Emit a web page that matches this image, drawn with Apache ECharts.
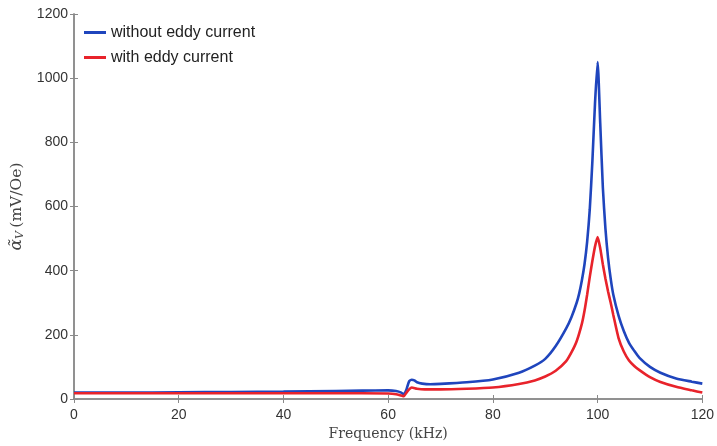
<!DOCTYPE html>
<html><head><meta charset="utf-8">
<script src="https://cdn.jsdelivr.net/npm/echarts@6/dist/echarts.min.js"></script>
<style>html,body{margin:0;padding:0;background:#fff}#c{width:717px;height:446px}</style>
</head><body><div id="c"></div>
<script>
const xTicks = [0, 20, 40, 60, 80, 100, 120];
const yTicks = [0, 200, 400, 600, 800, 1000, 1200];
const seriesNames = ['without eddy current', 'with eddy current'];

const freqBlue = [0, 10, 20, 30, 40, 50, 55, 60, 61.5, 62.5, 63, 63.5, 64, 64.5, 65, 65.5, 66.5, 68, 70, 75, 80, 85, 88, 90, 92, 94, 95, 96, 96.5, 97, 97.5, 98, 98.5, 99, 99.5, 100, 100.5, 101, 101.5, 102, 102.5, 103, 104, 105, 106, 107, 108, 110, 112, 115, 118, 120];
const valBlue  = [20, 20, 21, 22, 23, 25, 26, 27, 25, 20, 14, 30, 55, 60, 58, 52, 48, 46, 47, 52, 61, 82, 104, 125, 165, 220, 255, 300, 330, 370, 420, 490, 590, 740, 920, 1050, 860, 660, 530, 440, 375, 325, 260, 212, 175, 150, 128, 100, 82, 64, 54, 48];

const freqRed  = [0, 10, 20, 30, 40, 50, 60, 61.5, 62.5, 63, 63.5, 64, 64.5, 65.5, 67, 70, 75, 80, 85, 88, 90, 92, 94, 95, 96, 97, 97.5, 98, 98.5, 99, 99.5, 100, 100.5, 101, 101.5, 102, 102.5, 103, 104, 105, 106, 107, 108, 110, 112, 115, 118, 120];
const valRed   = [18, 18, 18, 18, 18, 18, 17, 15, 11, 9, 20, 30, 36, 32, 30, 30, 32, 36, 47, 58, 70, 88, 118, 145, 180, 235, 275, 325, 380, 430, 475, 505, 470, 420, 375, 335, 300, 262, 190, 148, 120, 103, 90, 68, 53, 38, 27, 20];

const blueData = freqBlue.map((f, i) => [f, valBlue[i]]);
const redData = freqRed.map((f, i) => [f, valRed[i]]);

const axisCol = '#8a8a8a';
const labelStyle = {color: '#333', fontSize: 14, fontFamily: 'Liberation Sans, Arial, sans-serif', formatter: v => String(v)};
const chart = echarts.init(document.getElementById('c'));
chart.setOption({
  animation: false,
  grid: {left: 74, right: 12, top: 14, bottom: 47},
  legend: {
    orient: 'vertical', left: 84, top: 23, itemGap: 6, itemWidth: 22, itemHeight: 3, padding: 0,
    icon: 'rect',
    data: seriesNames,
    textStyle: {color: '#222', fontSize: 16, fontFamily: 'Liberation Sans, Arial, sans-serif', lineHeight: 19}
  },
  xAxis: [{
    type: 'value', min: xTicks[0], max: xTicks[xTicks.length - 1], interval: 20,
    name: 'Frequency (kHz)', nameLocation: 'middle', nameGap: 26,
    nameTextStyle: {fontFamily: 'DejaVu Serif, Liberation Serif, serif', fontSize: 14, color: '#444'},
    axisLine: {show: true, lineStyle: {color: axisCol, width: 1.5}},
    axisTick: {show: true, inside: true, length: 4, lineStyle: {color: axisCol}},
    axisLabel: Object.assign({margin: 9}, labelStyle),
    splitLine: {show: false}
  }, {
    type: 'value', position: 'top', min: 0, max: 120, interval: 20,
    axisLine: {show: true, lineStyle: {color: axisCol, width: 1.5}},
    axisTick: {show: true, inside: true, length: 4, lineStyle: {color: axisCol}},
    axisLabel: {show: false}, splitLine: {show: false}
  }],
  yAxis: [{
    type: 'value', min: yTicks[0], max: yTicks[yTicks.length - 1], interval: 200,
    name: '{a|α̃}{s|V} {b|(mV/Oe)}', nameLocation: 'middle', nameGap: 44,
    nameTextStyle: {
      rich: {
        a: {fontFamily: 'DejaVu Serif, serif', fontSize: 17, color: '#444', fontStyle: 'italic'},
        s: {fontFamily: 'DejaVu Serif, serif', fontSize: 11, color: '#444', fontStyle: 'italic', padding: [7, 0, 0, 0]},
        b: {fontFamily: 'DejaVu Serif, Liberation Serif, serif', fontSize: 15.5, color: '#444'}
      }
    },
    axisLine: {show: true, lineStyle: {color: axisCol, width: 1.5}},
    axisTick: {show: true, inside: true, length: 4, lineStyle: {color: axisCol}},
    axisLabel: Object.assign({margin: 6}, labelStyle),
    splitLine: {show: false}
  }, {
    type: 'value', position: 'right', min: 0, max: 1200, interval: 200,
    axisLine: {show: true, lineStyle: {color: axisCol, width: 1.5}},
    axisTick: {show: true, inside: true, length: 4, lineStyle: {color: axisCol}},
    axisLabel: {show: false}, splitLine: {show: false}
  }],
  series: [{
    name: seriesNames[0], type: 'line', data: blueData, symbol: 'none', smooth: 0.2,
    lineStyle: {color: '#1f45bd', width: 2.6}, itemStyle: {color: '#1f45bd'}
  }, {
    name: seriesNames[1], type: 'line', data: redData, symbol: 'none', smooth: 0.2,
    lineStyle: {color: '#e8232b', width: 2.6}, itemStyle: {color: '#e8232b'}
  }]
});
</script></body></html>
